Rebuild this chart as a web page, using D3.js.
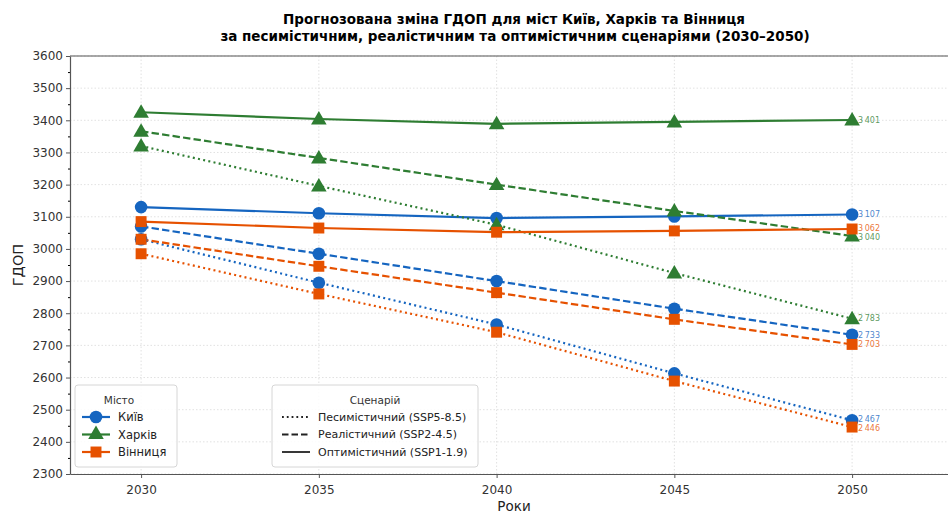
<!DOCTYPE html>
<html><head><meta charset="utf-8">
<script src="https://cdn.jsdelivr.net/npm/d3@7"></script>
<style>body{margin:0;background:#fff;overflow:hidden}svg{display:block;font-family:"DejaVu Sans",sans-serif}</style>
</head><body><svg id="c" width="948" height="513"></svg>
<script>
const years = [2030, 2035, 2040, 2045, 2050];
const cities = ["Київ", "Харків", "Вінниця"];
const scenarios = ["Песимістичний (SSP5-8.5)", "Реалістичний (SSP2-4.5)", "Оптимістичний (SSP1-1.9)"];
const kyivPess = [3030, 2895, 2765, 2613, 2467];
const kyivReal = [3070, 2985, 2900, 2814, 2733];
const kyivOpt  = [3130, 3111, 3096, 3101, 3107];
const kharkivPess = [3320, 3196, 3075, 2925, 2783];
const kharkivReal = [3366, 3283, 3200, 3118, 3040];
const kharkivOpt  = [3425, 3404, 3389, 3395, 3401];
const vinPess = [2985, 2860, 2741, 2589, 2446];
const vinReal = [3030, 2946, 2864, 2781, 2703];
const vinOpt  = [3085, 3065, 3052, 3056, 3062];
const yTicks = [2300, 2400, 2500, 2600, 2700, 2800, 2900, 3000, 3100, 3200, 3300, 3400, 3500, 3600];

const colors = {"Київ": "#1565C0", "Харків": "#2E7D32", "Вінниця": "#E65100"};
const markers = {"Київ": d3.symbolCircle, "Харків": d3.symbolTriangle, "Вінниця": d3.symbolSquare};
const markerSize = {"Київ": 125, "Харків": 105, "Вінниця": 120};
const dashes = {0: "2,3.3", 1: "7.4,3.2", 2: null};
const seriesData = [
  {city: "Київ", sc: 0, v: kyivPess}, {city: "Київ", sc: 1, v: kyivReal}, {city: "Київ", sc: 2, v: kyivOpt},
  {city: "Харків", sc: 0, v: kharkivPess}, {city: "Харків", sc: 1, v: kharkivReal}, {city: "Харків", sc: 2, v: kharkivOpt},
  {city: "Вінниця", sc: 0, v: vinPess}, {city: "Вінниця", sc: 1, v: vinReal}, {city: "Вінниця", sc: 2, v: vinOpt}
];

const svg = d3.select("#c");
const L = 70, T = 56, B = 474;
const x = d3.scaleLinear().domain([2028, 2053.5]).range([L, L + 25.5 * 35.55]);
const y = d3.scaleLinear().domain([2300, 3600]).range([B, T]);
const R = 960;

// grid
const g = svg.append("g");
g.selectAll(".hg").data(yTicks).enter().append("line")
  .attr("x1", L).attr("x2", R).attr("y1", d => y(d)).attr("y2", d => y(d))
  .attr("stroke", "#d9d9d9").attr("stroke-width", 0.8).attr("stroke-dasharray", "1.5,2");
g.selectAll(".vg").data(years).enter().append("line")
  .attr("y1", T).attr("y2", B).attr("x1", d => x(d)).attr("x2", d => x(d))
  .attr("stroke", "#d9d9d9").attr("stroke-width", 0.8).attr("stroke-dasharray", "1.5,2");

// lines
const line = d3.line().x((d, i) => x(years[i])).y(d => y(d));
seriesData.forEach(s => {
  svg.append("path").attr("d", line(s.v)).attr("fill", "none")
    .attr("stroke", colors[s.city]).attr("stroke-width", 2.2)
    .attr("stroke-dasharray", dashes[s.sc]);
});
seriesData.forEach(s => {
  svg.selectAll(null).data(s.v).enter().append("path")
    .attr("d", d3.symbol().type(markers[s.city]).size(markerSize[s.city]))
    .attr("transform", (d, i) => `translate(${x(years[i])},${y(d) + (s.city === "Харків" ? 1 : 0)})`)
    .attr("fill", colors[s.city]);
});
// end labels, nudged apart when too close
const fmt = v => String(v).replace(/(\d)(\d{3})$/, "$1\u2009$2");
const labs = seriesData.map(s => ({v: s.v[s.v.length - 1], c: colors[s.city]}))
  .map(o => ({...o, py: y(o.v)})).sort((a, b) => a.py - b.py);
for (let k = 0; k < 4; k++) {
  for (let i = 1; i < labs.length; i++) {
    const gap = labs[i].py - labs[i - 1].py;
    if (gap < 8.5) { const d = (8.5 - gap) / 2; labs[i].py += d; labs[i - 1].py -= d; }
  }
}
labs.forEach(o => {
  svg.append("text").attr("x", x(2050) + 6).attr("y", o.py).attr("dy", "0.35em")
    .attr("font-size", 8).attr("fill", o.c).attr("fill-opacity", 0.8).text(fmt(o.v));
});

// axes
const ax = svg.append("g").attr("transform", `translate(0,${B})`)
  .call(d3.axisBottom(x).tickValues(years).tickFormat(d3.format("d")).tickSize(4).tickSizeOuter(0));
const ay = svg.append("g").attr("transform", `translate(${L},0)`)
  .call(d3.axisLeft(y).tickValues(yTicks).tickFormat(d3.format("d")).tickSize(4).tickSizeOuter(0));
svg.append("g").attr("transform", `translate(${L},0)`)
  .call(d3.axisLeft(y).tickValues(d3.range(2350, 3600, 100)).tickSize(2).tickFormat(""))
  .select(".domain").remove();
[ax, ay].forEach(a => {
  a.selectAll("text").attr("font-size", 12).attr("fill", "#333").attr("font-family", "DejaVu Sans, sans-serif");
  a.selectAll("line").attr("stroke", "#555");
  a.select(".domain").attr("stroke", "#555").attr("stroke-width", 1.2);
});
ax.selectAll("text").attr("dy", "1.05em");
svg.append("line").attr("x1", L).attr("x2", R).attr("y1", T).attr("y2", T).attr("stroke", "#555").attr("stroke-width", 1.2);

// titles
svg.append("text").attr("x", 514).attr("y", 24).attr("text-anchor", "middle").attr("font-size", 13.5).attr("font-weight", "bold")
  .text("Прогнозована зміна ГДОП для міст Київ, Харків та Вінниця");
svg.append("text").attr("x", 515).attr("y", 41).attr("text-anchor", "middle").attr("font-size", 13.5).attr("font-weight", "bold")
  .text("за песимістичним, реалістичним та оптимістичним сценаріями (2030–2050)");
svg.append("text").attr("x", 514).attr("y", 511).attr("text-anchor", "middle").attr("font-size", 13.5).attr("fill", "#222").text("Роки");
svg.append("text").attr("transform", "translate(23,265) rotate(-90)").attr("text-anchor", "middle").attr("font-size", 14.5).attr("fill", "#222").text("ГДОП");

// legend 1
const l1 = svg.append("g").attr("transform", "translate(75,385)");
l1.append("rect").attr("width", 102).attr("height", 82).attr("rx", 3).attr("fill", "#fff").attr("fill-opacity", 0.85).attr("stroke", "#d6d6d6");
l1.append("text").attr("x", 44).attr("y", 19).attr("text-anchor", "middle").attr("font-size", 10.5).attr("fill", "#333").text("Місто");
cities.forEach((c, i) => {
  const yy = 32 + i * 17.5;
  l1.append("line").attr("x1", 7).attr("x2", 35).attr("y1", yy).attr("y2", yy).attr("stroke", colors[c]).attr("stroke-width", 2.2);
  l1.append("path").attr("d", d3.symbol().type(markers[c]).size(markerSize[c])()).attr("transform", `translate(21,${yy})`).attr("fill", colors[c]);
  l1.append("text").attr("x", 43).attr("y", yy).attr("dy", "0.35em").attr("font-size", 11.5).attr("fill", "#222").text(c);
});
// legend 2
const l2 = svg.append("g").attr("transform", "translate(272,385)");
l2.append("rect").attr("width", 206).attr("height", 82).attr("rx", 3).attr("fill", "#fff").attr("fill-opacity", 0.85).attr("stroke", "#d6d6d6");
l2.append("text").attr("x", 103).attr("y", 19).attr("text-anchor", "middle").attr("font-size", 10.5).attr("fill", "#333").text("Сценарій");
scenarios.forEach((s, i) => {
  const yy = 32 + i * 17.5;
  l2.append("line").attr("x1", 10).attr("x2", 38).attr("y1", yy).attr("y2", yy).attr("stroke", "#222").attr("stroke-width", 1.8)
    .attr("stroke-dasharray", i === 0 ? "1.8,3" : (i === 1 ? "6.5,3" : null));
  l2.append("text").attr("x", 46).attr("y", yy).attr("dy", "0.35em").attr("font-size", 11).attr("fill", "#222").text(s);
});
</script></body></html>
